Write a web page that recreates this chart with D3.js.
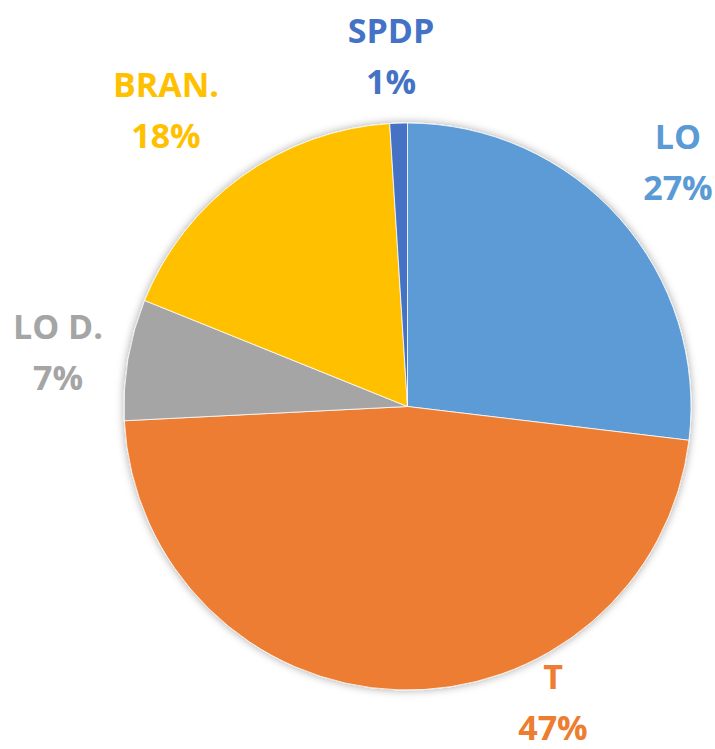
<!DOCTYPE html>
<html>
<head>
<meta charset="utf-8">
<script src="https://cdn.jsdelivr.net/npm/d3@7"></script>
<style>
  html, body { margin: 0; padding: 0; background: #fff; }
  #viz { width: 715px; height: 749px; }
  text { font-family: "Open Sans", sans-serif; font-weight: 700; }
</style>
</head>
<body>
<div id="viz"></div>
<script>
//Datos
const categories = ['LO', 'T', 'LO D.', 'BRAN.', 'SPDP'];
const values = [26.9, 47.3, 6.9, 17.9, 1.0];

//Colores fijos
const COLORS = ['#5B9BD5', '#ED7D31', '#A5A5A5', '#FFC000', '#4472C4'];

//Posición de las etiquetas (centro del texto, línea base de la categoría)
const LABEL_POS = [[678, 149], [553, 689], [58, 339], [166, 97], [391, 43]];
const LINE_GAP = 51;

let width = 715, height = 749;
let cx = 407.5, cy = 406.5, radius = 283.5;

let svg = d3.select('#viz')
    .append('svg')
        .attr('width', width)
        .attr('height', height);

// sombra
let defs = svg.append('defs');
defs.append('filter')
    .attr('id', 'shadow')
    .attr('x', '-10%').attr('y', '-10%')
    .attr('width', '120%').attr('height', '120%')
    .append('feDropShadow')
        .attr('dx', 0).attr('dy', 0)
        .attr('stdDeviation', 4)
        .attr('flood-color', '#000')
        .attr('flood-opacity', 0.35);

let data = categories.map(function(c, i) { return { cat: c, value: values[i], color: COLORS[i], pos: LABEL_POS[i] }; });

let pie = d3.pie()
    .sort(null)
    .value(function(d) { return d.value; });

let arc = d3.arc()
    .innerRadius(0)
    .outerRadius(radius);

let total = d3.sum(values);

let g = svg.append('g')
    .attr('transform', 'translate(' + cx + ',' + cy + ')');

g.append('g')
    .attr('filter', 'url(#shadow)')
    .selectAll('path')
    .data(pie(data))
    .enter()
    .append('path')
        .attr('d', arc)
        .attr('fill', function(d) { return d.data.color; })
        .attr('stroke', '#fff')
        .attr('stroke-width', 0.8);

// Etiquetas
let labels = svg.selectAll('.label')
    .data(data)
    .enter()
    .append('text')
        .attr('class', 'label')
        .attr('text-anchor', 'middle')
        .attr('font-size', 34)
        .attr('fill', function(d) { return d.color; });

labels.append('tspan')
    .attr('x', function(d) { return d.pos[0]; })
    .attr('y', function(d) { return d.pos[1]; })
    .text(function(d) { return d.cat; });

labels.append('tspan')
    .attr('x', function(d) { return d.pos[0]; })
    .attr('y', function(d) { return d.pos[1] + LINE_GAP; })
    .text(function(d) { return Math.round(d.value / total * 100) + '%'; });
</script>
</body>
</html>
